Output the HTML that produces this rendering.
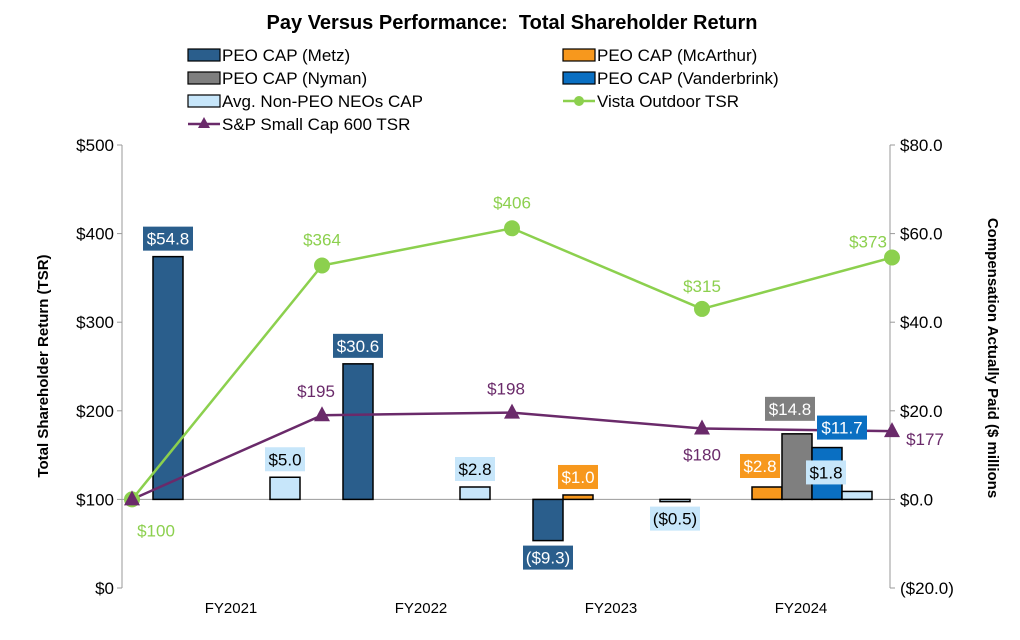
<!DOCTYPE html>
<html><head><meta charset="utf-8"><style>
body{margin:0;background:#fff;width:1020px;height:635px;overflow:hidden}
svg{font-family:"Liberation Sans",Arial,sans-serif}
</style></head><body>
<svg id="c" width="1020" height="635">
<text x="512" y="29" text-anchor="middle" font-size="20" font-weight="bold" fill="#000">Pay Versus Performance:&#160; Total Shareholder Return</text>
<g id="legend"></g>
<g id="axes"></g><g id="bars"></g><g id="lines"></g><g id="labels"></g>
</svg>
<script>
const categories=["FY2021","FY2022","FY2023","FY2024"];
const metz=[54.8,30.6,-9.3,null];
const mcarthur=[null,null,1.0,2.8];
const nyman=[null,null,null,14.8];
const vanderbrink=[null,null,null,11.7];
const nonPeo=[5.0,2.8,-0.5,1.8];
const vistaTsr=[100,364,406,315,373];
const spTsr=[100,195,198,180,177];
const leftTicks=[0,100,200,300,400,500];
const rightTicks=[-20,0,20,40,60,80];
const NS="http://www.w3.org/2000/svg";
function el(t,a,p){const e=document.createElementNS(NS,t);for(const k in a)e.setAttribute(k,a[k]);(p||document.getElementById('c')).appendChild(e);return e;}
const L=122,R=890,T=145,B=588;
const yL=v=>B-(v/500)*(B-T);
const yR=v=>B-((v+20)/100)*(B-T);
const xPt=i=>132+i*190;
const xCat=i=>xPt(i)+95;
const axes=document.getElementById('axes');
let a=el('line',{x1:L,y1:T,x2:L,y2:B,stroke:'#999','stroke-width':1},axes);

a=el('line',{x1:R,y1:T,x2:R,y2:B,stroke:'#999','stroke-width':1},axes);

a=el('line',{x1:L,y1:yL(100),x2:R,y2:yL(100),stroke:'#999','stroke-width':1},axes);

leftTicks.forEach(v=>{el('line',{x1:L-5,y1:yL(v),x2:L,y2:yL(v),stroke:'#999'},axes);
 const t=el('text',{x:L-8,y:yL(v)+6,'text-anchor':'end','font-size':17,fill:'#000'},axes);t.textContent='$'+v;
 });
rightTicks.forEach(v=>{el('line',{x1:R,y1:yR(v),x2:R+5,y2:yR(v),stroke:'#999'},axes);
 const t=el('text',{x:R+10,y:yR(v)+6,'font-size':17,fill:'#000'},axes);t.textContent=v<0?'($'+Math.abs(v).toFixed(1)+')':'$'+v.toFixed(1);
 });
categories.forEach((c,i)=>{const t=el('text',{x:xCat(i)+4,y:613,'text-anchor':'middle','font-size':15,fill:'#000'},axes);t.textContent=c;
 });
let yt=el('text',{transform:'translate(48,366) rotate(-90)','text-anchor':'middle','font-size':15,'font-weight':'bold'},axes);yt.textContent='Total Shareholder Return (TSR)';

yt=el('text',{transform:'translate(988,358) rotate(90)','text-anchor':'middle','font-size':15,'font-weight':'bold'},axes);yt.textContent='Compensation Actually Paid ($ millions';

const series=[
 {name:'metz',vals:metz,fill:'#2a5e8c',txt:'#fff',off:[21,21,21,21],w:30,lab:[[0,0],[0,0],[0,0],[0,0]]},
 {name:'mcarthur',vals:mcarthur,fill:'#f7981d',txt:'#fff',off:[51,51,51,50],w:30,lab:[[0,0],[0,0],[0,0],[-7,-3]]},
 {name:'nyman',vals:nyman,fill:'#7f7f7f',txt:'#fff',off:[80,80,80,80],w:30,lab:[[0,0],[0,0],[0,0],[-7,-7]]},
 {name:'vanderbrink',vals:vanderbrink,fill:'#0a6fc2',txt:'#fff',off:[110,110,110,110],w:30,lab:[[0,0],[0,0],[0,0],[15,-2]]},
 {name:'non-peo',vals:nonPeo,fill:'#c7e6fa',txt:'#000',off:[138,138,148,140],w:30,lab:[[0,0],[0,0],[0,0],[-31,-1]]}];
const bars=document.getElementById('bars'),labels=document.getElementById('labels');
function fmt(v){return v<0?'($'+Math.abs(v).toFixed(1)+')':'$'+v.toFixed(1);}
series.forEach(s=>{s.vals.forEach((v,i)=>{if(v===null)return;
 const x=xPt(i)+s.off[i],y0=yR(0),y1=yR(v);
 const r=el('rect',{x:x,y:Math.min(y0,y1),width:s.w,height:Math.max(2,Math.abs(y1-y0)),fill:s.fill,stroke:'#000','stroke-width':1.5},bars);
 
 const cx=x+s.w/2+s.lab[i][0],cy=(v>=0?y1-18:y1+17)+s.lab[i][1];
 const w=v<0?50:(Math.abs(v)>=10?50:40);
 const bx=el('rect',{x:cx-w/2,y:cy-12,width:w,height:24,fill:s.fill},labels);
 
 const t=el('text',{x:cx,y:cy+6,'text-anchor':'middle','font-size':17,fill:s.txt},labels);t.textContent=fmt(v);
 });});
const lines=document.getElementById('lines');
let p=el('polyline',{points:vistaTsr.map((v,i)=>xPt(i)+','+yL(v)).join(' '),fill:'none',stroke:'#8cd04e','stroke-width':2.5},lines);

p=el('polyline',{points:spTsr.map((v,i)=>xPt(i)+','+yL(v)).join(' '),fill:'none',stroke:'#6a2a6a','stroke-width':2.5},lines);

const vOff=[[24,31],[0,-26],[0,-26],[0,-23],[-24,-16]];
const sOff=[[0,0],[-6,-24],[-6,-24],[0,26],[33,8]];
vistaTsr.forEach((v,i)=>{const c=el('circle',{cx:xPt(i),cy:yL(v),r:8,fill:'#8cd04e'},lines);
 
 const t=el('text',{x:xPt(i)+vOff[i][0],y:yL(v)+vOff[i][1]+6,'text-anchor':'middle','font-size':17,fill:'#8cd04e'},labels);t.textContent='$'+v;
 });
spTsr.forEach((v,i)=>{const x=xPt(i),y=yL(v);
 const m=el('polygon',{points:`${x},${y-9} ${x-8},${y+6} ${x+8},${y+6}`,fill:'#6a2a6a'},lines);
 
 if(i===0)return;
 const t=el('text',{x:x+sOff[i][0],y:y+sOff[i][1]+6,'text-anchor':'middle','font-size':17,fill:'#6a2a6a'},labels);t.textContent='$'+v;
 });
const lg=document.getElementById('legend');
const items=[
 ['PEO CAP (Metz)','#2a5e8c','box',188,55],['PEO CAP (McArthur)','#f7981d','box',563,55],
 ['PEO CAP (Nyman)','#7f7f7f','box',188,78],['PEO CAP (Vanderbrink)','#0a6fc2','box',563,78],
 ['Avg. Non-PEO NEOs CAP','#c7e6fa','box',188,101],['Vista Outdoor TSR','#8cd04e','circle',563,101],
 ['S&P Small Cap 600 TSR','#6a2a6a','tri',188,124]];
items.forEach(it=>{const [name,col,kind,x,y]=it;
 const g=el('g',{},lg);
 if(kind==='box')el('rect',{x:x,y:y-6,width:32,height:12,fill:col,stroke:'#000','stroke-width':1.2},g);
 else{el('line',{x1:x,y1:y,x2:x+32,y2:y,stroke:col,'stroke-width':2.5},g);
  if(kind==='circle')el('circle',{cx:x+16,cy:y,r:5,fill:col},g);
  else el('polygon',{points:`${x+16},${y-7} ${x+10},${y+4} ${x+22},${y+4}`,fill:col},g);}
 const t=el('text',{x:x+34,y:y+6,'font-size':17,fill:'#000'},g);t.textContent=name;});
</script>
</body></html>
